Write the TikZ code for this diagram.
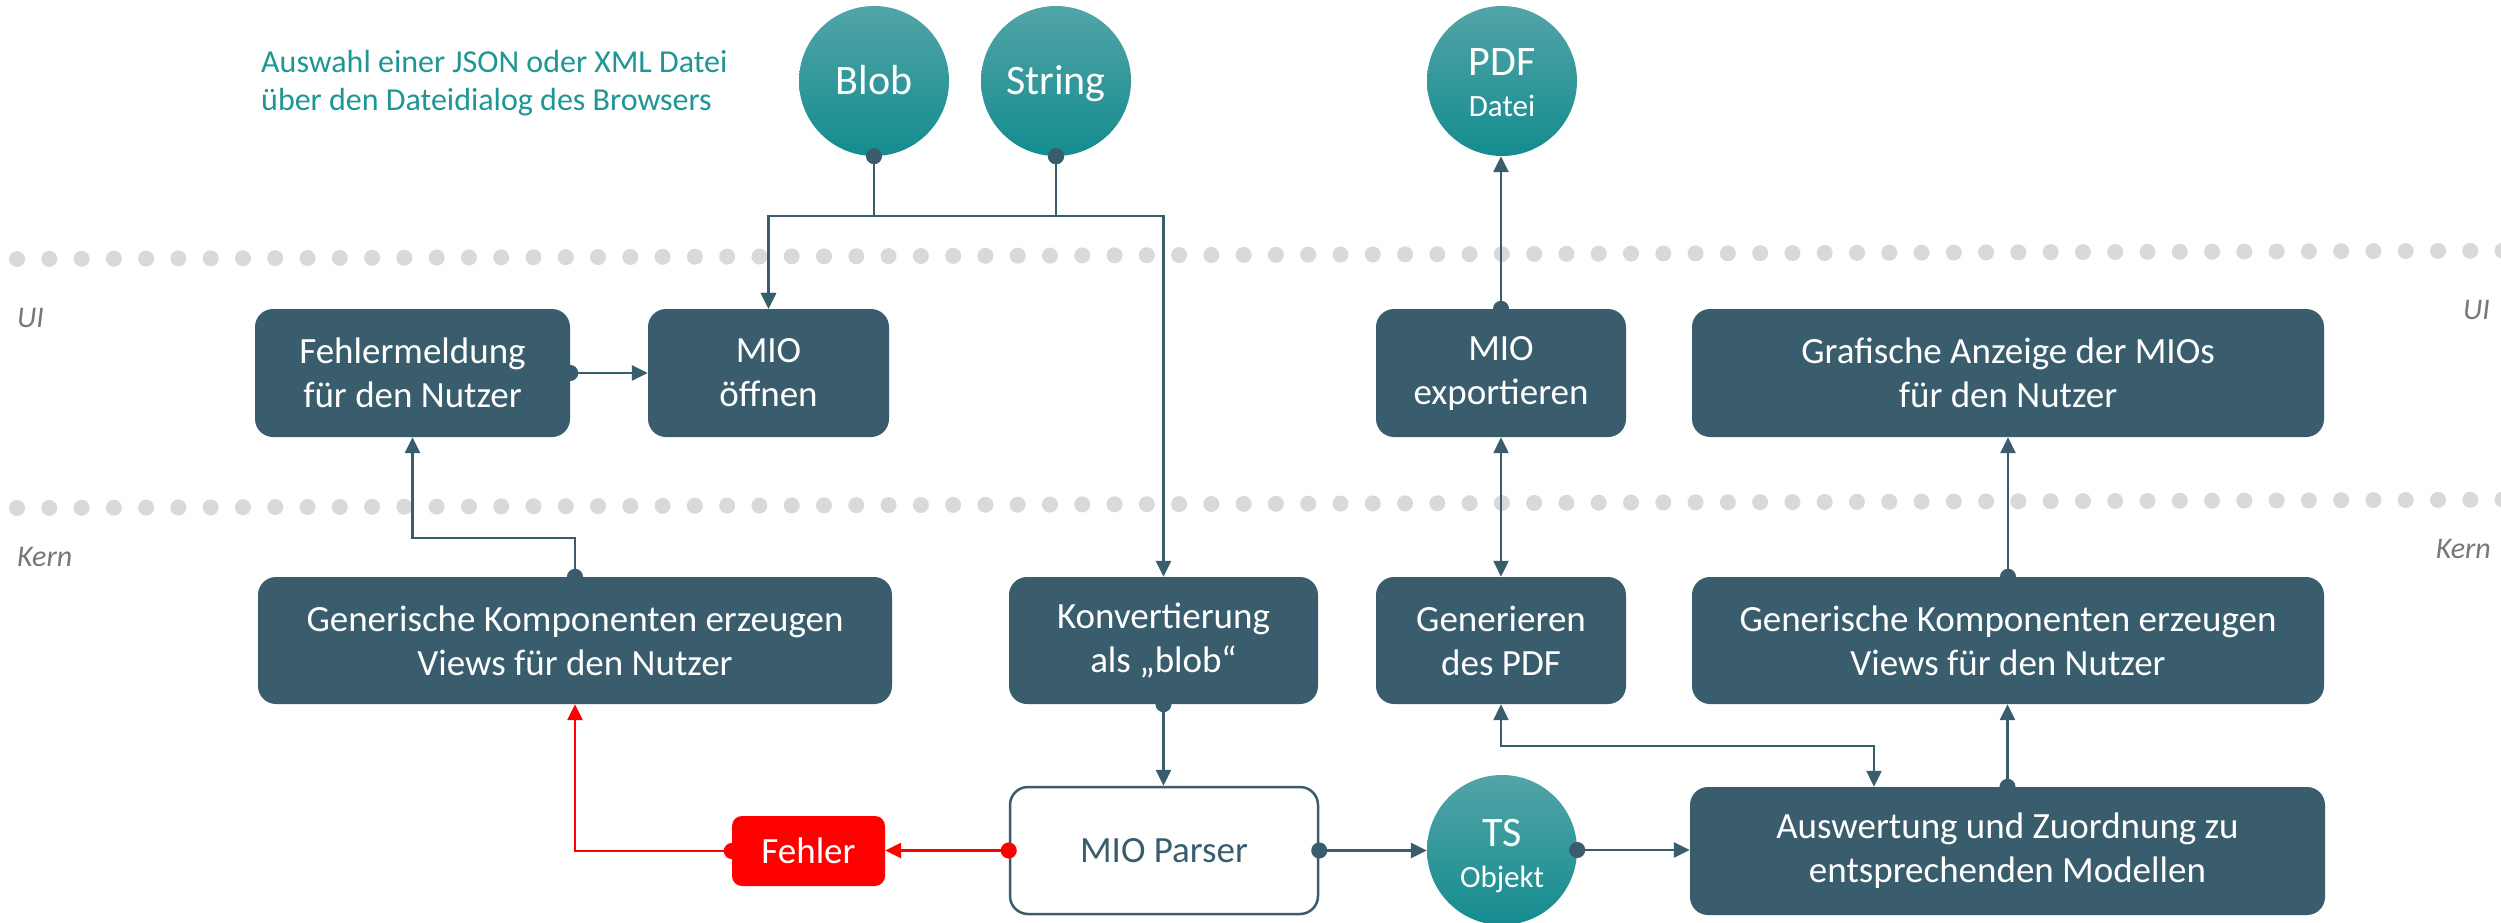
\documentclass[tikz,border=0pt]{standalone}
\usepackage{fontspec}
\setmainfont{Carlito}
\usetikzlibrary{arrows.meta}
\definecolor{slate}{RGB}{58,93,110}
\definecolor{tealtop}{RGB}{82,164,167}
\definecolor{tealbot}{RGB}{20,140,143}
\definecolor{tealtext}{RGB}{30,150,150}
\definecolor{dotgray}{RGB}{217,217,217}
\definecolor{labgray}{RGB}{120,120,120}
\definecolor{errred}{RGB}{255,0,0}
\begin{document}
\begin{tikzpicture}[x=1pt,y=-1pt,
  box/.style={rectangle, rounded corners=18pt, fill=slate, text=white, align=center,
    inner sep=0pt, font=\fontsize{37}{44}\selectfont},
  circ/.style={circle, minimum size=150pt, inner sep=0pt, top color=tealtop, bottom color=tealbot},
  bigtxt/.style={text=white, inner sep=0pt, anchor=base, font=\fontsize{42}{42}\selectfont},
  smalltxt/.style={text=white, inner sep=0pt, anchor=base, font=\fontsize{31}{31}\selectfont},
  layer/.style={text=labgray, inner sep=0pt, font=\fontsize{30}{30}\selectfont\itshape},
  flow/.style={draw=slate, line width=2.7pt, {Circle[length=16pt]}-{Triangle[length=16pt,width=15pt]}, shorten <=-8pt},
  redflow/.style={draw=errred, line width=2.7pt, {Circle[length=16pt]}-{Triangle[length=16pt,width=15pt]}, shorten <=-8pt},
  both/.style={draw=slate, line width=2.2pt, {Triangle[length=16pt,width=15pt]}-{Triangle[length=16pt,width=15pt]}},
]
\useasboundingbox[fill=white] (0,0) rectangle (2501,923);

% dotted layer separators
\foreach \i in {0,...,77}{
  \fill[dotgray] ({17+32.28*\i},{259-0.1078*\i}) circle (8pt);
  \fill[dotgray] ({17+32.28*\i},{508-0.1078*\i}) circle (8pt);
}

% layer labels
\node[layer, anchor=west] (uiL) at (17,318) {UI};
\node[layer, anchor=east] (uiR) at (2490,310) {UI};
\node[layer, anchor=west] (kernL) at (17,557) {Kern};
\node[layer, anchor=east] (kernR) at (2491,549) {Kern};

% description
\node[text=tealtext, inner sep=0pt, anchor=north west, align=left, font=\fontsize{32}{38}\selectfont] (desc) at (261,50)
  {Auswahl einer JSON oder XML Datei\\über den Dateidialog des Browsers};

% circles
\node[circ] (blob) at (874,81) {};
\node[bigtxt] (blobT) at (874,95) {Blob};
\node[circ] (string) at (1056,81) {};
\node[bigtxt] (stringT) at (1056,95) {String};
\node[circ] (pdf) at (1502,81) {};
\node[bigtxt] (pdfT) at (1502,76) {PDF};
\node[smalltxt] (pdfS) at (1502,117) {Datei};

% boxes UI
\node[box, minimum width=315pt, minimum height=128pt] (fehlm) at (412.5,373) {Fehlermeldung\\für den Nutzer};
\node[box, minimum width=241pt, minimum height=128pt] (oeffnen) at (768.5,373) {MIO\\öffnen};
\node[box, minimum width=250pt, minimum height=128pt] (export) at (1501,373) {MIO\\exportieren};
\node[box, minimum width=632pt, minimum height=128pt] (grafik) at (2008,373) {Grafische Anzeige der MIOs\\für den Nutzer};

% boxes Kern
\node[box, minimum width=634pt, minimum height=127pt] (genL) at (575,640.5) {Generische Komponenten erzeugen\\Views für den Nutzer};
\node[box, minimum width=309pt, minimum height=127pt] (konv) at (1163.5,640.5) {Konvertierung\\als „blob“};
\node[box, minimum width=250pt, minimum height=127pt] (genPDF) at (1501,640.5) {Generieren\\des PDF};
\node[box, minimum width=632pt, minimum height=127pt] (genR) at (2008,640.5) {Generische Komponenten erzeugen\\Views für den Nutzer};

\node[box, fill=white, draw=slate, line width=2.5pt, text=slate, minimum width=308pt, minimum height=127pt] (parser) at (1164,850.5) {MIO Parser};
\node[box, minimum width=635pt, minimum height=128pt] (ausw) at (2007.5,851) {Auswertung und Zuordnung zu\\entsprechenden Modellen};
\node[box, fill=errred, rounded corners=10pt, minimum width=153pt, minimum height=70pt] (fehler) at (808.5,851) {Fehler};

\node[circ] (ts) at (1502,850) {};
\node[bigtxt] (tsT) at (1502,846) {TS};
\node[smalltxt] (tsS) at (1502,887) {Objekt};

% helper coordinates
\coordinate (busY) at (0,216);
\coordinate (upY) at (0,538);
\coordinate (pdfBend) at (1874,746);

% connectors
\draw[flow] (blob.south) -- (blob.south |- busY) -| (oeffnen.north);
\draw[flow] (string.south) -- (string.south |- busY) -| (oeffnen.north);
\draw[flow] (string.south) -- (string.south |- busY) -| (konv.north);
\draw[flow] (fehlm.east) -- (oeffnen.west);
\draw[flow] (genL.north) -- (genL.north |- upY) -| (fehlm.south);
\draw[flow] (konv.south) -- (konv.south |- parser.north);
\draw[redflow] (parser.west) -- (parser.west -| fehler.east);
\draw[redflow] (fehler.west) -| (genL.south);
\draw[flow] (parser.east) -- (parser.east -| ts.west);
\draw[flow] (ts.east) -- (ts.east -| ausw.west);
\draw[both] (genPDF.south) |- (pdfBend) -- (pdfBend |- ausw.north);
\draw[flow] (export.north) -- (export.north |- pdf.south);
\draw[both] (genPDF.north) -- (export.south);
\draw[flow] (ausw.north) -- (ausw.north |- genR.south);
\draw[flow] (genR.north) -- (grafik.south);
\end{tikzpicture}
\end{document}
